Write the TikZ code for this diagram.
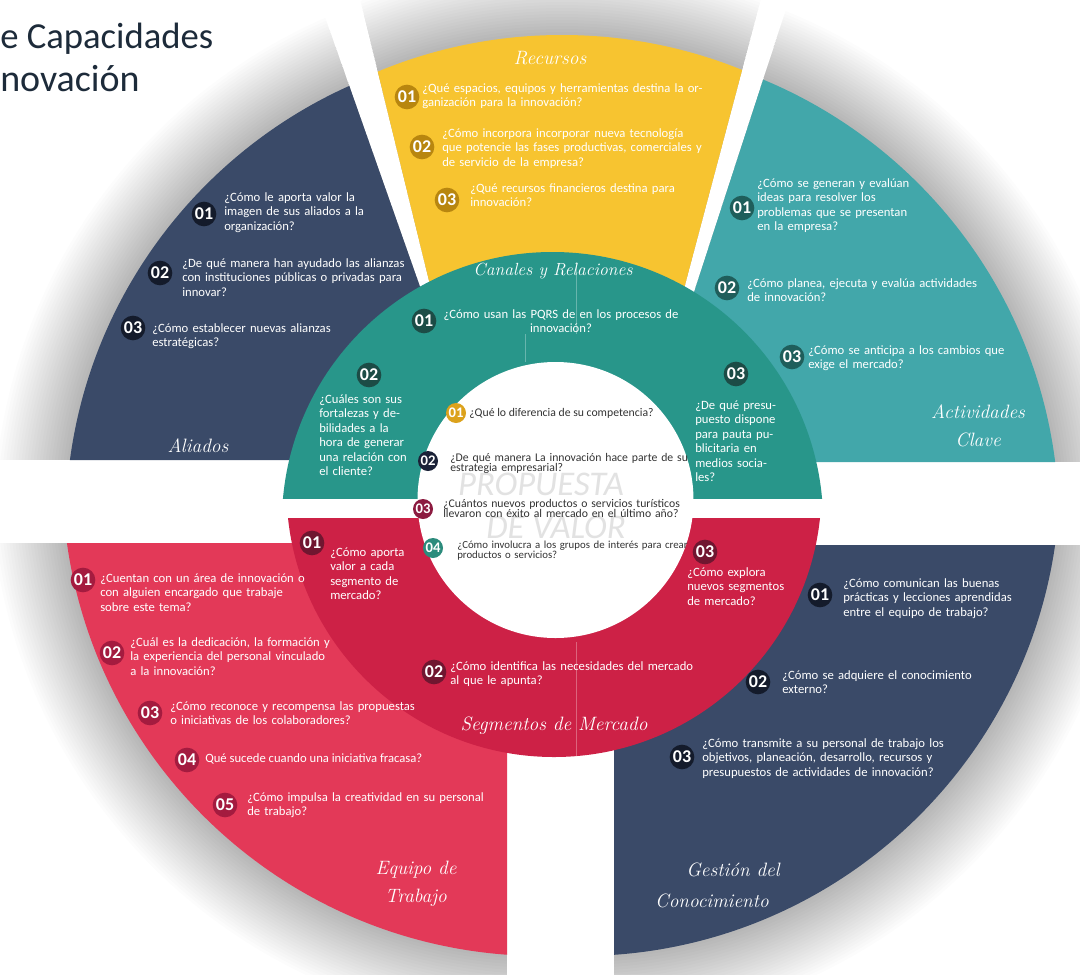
\documentclass[tikz,border=0pt]{standalone}
\usepackage{fontspec}
\newfontfamily\bodyfont{Carlito}
\newfontfamily\labelfont{Latin Modern Roman}
\definecolor{navyp}{HTML}{3A4A68}
\definecolor{yellowp}{HTML}{F7C430}
\definecolor{tealp}{HTML}{42A7AA}
\definecolor{tealm}{HTML}{28968A}
\definecolor{redp}{HTML}{E33958}
\definecolor{redm}{HTML}{CD2146}
\definecolor{titlec}{HTML}{1D2B3A}
\definecolor{bnavy}{HTML}{141B2B}
\definecolor{bgold}{HTML}{B8860F}
\definecolor{bteal}{HTML}{1F5E5B}
\definecolor{bcanal}{HTML}{1C4C46}
\definecolor{bseg}{HTML}{701630}
\definecolor{bequipo}{HTML}{A41B3F}
\definecolor{igold}{HTML}{DCA21C}
\definecolor{inavy}{HTML}{1B2238}
\definecolor{imaroon}{HTML}{8C1B40}
\definecolor{iteal}{HTML}{2C8B7C}
\definecolor{innertext}{HTML}{333333}
\definecolor{watermark}{HTML}{E2E2E2}
% one justified line of a question block
\newcommand\jr[1]{\leavevmode\hbox to\linewidth{#1}}
\begin{document}
\begin{tikzpicture}[x=0.75pt,y=-0.75pt,
  q/.style={text=white, inner sep=0pt, anchor=base west, align=left,
    font=\bodyfont\fontsize{9.5}{10.9}\selectfont},
  tw/.style={text width=#1*0.75pt},
  iq/.style={text=innertext, inner sep=0pt, anchor=base west, align=left,
    font=\bodyfont\fontsize{8.8}{7.8}\selectfont},
  badge/.style={circle, fill=#1, text=white, inner sep=0pt, minimum size=18.5pt,
    font=\bodyfont\bfseries\fontsize{13.5}{13.5}\selectfont},
  ibadge/.style={circle, fill=#1, text=white, inner sep=0pt, minimum size=15pt,
    font=\bodyfont\bfseries\fontsize{11}{11}\selectfont},
  sector/.style={text=white, inner sep=0pt, align=center,
    font=\labelfont\itshape\fontsize{14.5}{21}\selectfont},
  shadowring/.style={black, fill opacity=0.012},
]
\useasboundingbox (0,0) rectangle (1080,974);
\fill[white] (0,0) rectangle (1080,974);
\clip (0,0) rectangle (1080,974);

% ---------- outer ring: soft shadows ----------
\begin{scope}
  \clip (-20,-20) -- (312,-20) -- (481,460) -- (-20,460) -- cycle;
  \foreach \k in {1,...,24} \fill[shadowring] (545.7,524) circle (480+3*\k);
\end{scope}
\begin{scope}
  \clip (355.3,-20) -- (766,-20) -- (681,300) -- (433.7,300) -- cycle;
  \foreach \k in {1,...,24} \fill[shadowring] (562,515) circle (480+3*\k);
\end{scope}
\begin{scope}
  \clip (795.5,-20) -- (1100,-20) -- (1100,462) -- (638.85,462) -- cycle;
  \foreach \k in {1,...,24} \fill[shadowring] (579,523) circle (480+3*\k);
\end{scope}
\begin{scope}
  \clip (-20,543) rectangle (507,1000);
  \foreach \k in {1,...,24} \fill[shadowring] (542.3,476) circle (480+3*\k);
\end{scope}
\begin{scope}
  \clip (614,545) rectangle (1100,1000);
  \foreach \k in {1,...,24} \fill[shadowring] (580,476) circle (480+3*\k);
\end{scope}

% ---------- outer ring pieces ----------
\begin{scope}
  \clip (-20,-20) -- (312,-20) -- (481,460) -- (-20,460) -- cycle;
  \fill[navyp] (545.7,524) circle (480);
\end{scope}
\begin{scope}
  \clip (355.3,-20) -- (766,-20) -- (681,300) -- (433.7,300) -- cycle;
  \fill[yellowp] (562,515) circle (480);
\end{scope}
\begin{scope}
  \clip (795.5,-20) -- (1100,-20) -- (1100,462) -- (638.85,462) -- cycle;
  \fill[tealp] (579,523) circle (480);
\end{scope}
\begin{scope}
  \clip (-20,543) rectangle (507,1000);
  \fill[redp] (542.3,476) circle (480);
\end{scope}
\begin{scope}
  \clip (614,545) rectangle (1100,1000);
  \fill[navyp] (580,476) circle (480);
\end{scope}

% ---------- middle ring ----------
\begin{scope}
  \clip (0,0) rectangle (1080,498);
  \fill[tealm] (552.5,522.6) circle (270.6);
\end{scope}
\begin{scope}
  \clip (0,518) rectangle (1080,974);
  \fill[redm] (554,489.5) circle (267.5);
\end{scope}
\draw[white, opacity=0.3, line width=0.4pt] (576,262) -- (576,334);
\draw[white, opacity=0.3, line width=0.4pt] (525,334) -- (525,362);
\draw[white, opacity=0.3, line width=0.4pt] (576,642) -- (576,757);

% ---------- centre ----------
\fill[white] (555.5,500) circle (138);
\node[font=\bodyfont\itshape\fontsize{26}{30}\selectfont, text=watermark, inner sep=0pt] (wm1) at (541,484) {PROPUESTA};
\node[font=\bodyfont\itshape\fontsize{26}{30}\selectfont, text=watermark, inner sep=0pt] (wm2) at (556,527) {DE VALOR};

\node[ibadge=igold] (bi1) at (456,413) {01};
\node[iq] (ti1) at (469,416.5) {¿Qué lo diferencia de su competencia?};
\node[ibadge=inavy] (bi2) at (428,461) {02};
\node[iq, tw=300] (ti2) at (450,461) {¿De qué manera La innovación hace parte de su\\estrategia empresarial?};
\node[ibadge=imaroon] (bi3) at (423,509) {03};
\node[iq, tw=244] (ti3) at (443,507.5) {\jr{¿Cuántos nuevos productos o servicios turísticos}\\llevaron con éxito al mercado en el último año?};
\node[ibadge=iteal] (bi4) at (433,548) {04};
\node[iq, tw=300, font=\bodyfont\fontsize{8.1}{7.8}\selectfont] (ti4) at (457,548.5) {¿Cómo involucra a los grupos de interés para crear\\productos o servicios?};

% ---------- Aliados ----------
\node[badge=bnavy] (ba1) at (204,214) {01};
\node[q, tw=156] (ta1) at (224,201) {\jr{¿Cómo le aporta valor la}\\\jr{imagen de sus aliados a la}\\organización?};
\node[badge=bnavy] (ba2) at (160,273) {02};
\node[q, tw=300] (ta2) at (182,267) {¿De qué manera han ayudado las alianzas\\con instituciones públicas o privadas para\\innovar?};
\node[badge=bnavy] (ba3) at (133,328) {03};
\node[q, tw=300] (ta3) at (152,332) {¿Cómo establecer nuevas alianzas\\estratégicas?};
\node[sector] (la) at (198,446) {Aliados};

% ---------- Recursos ----------
\node[sector] (lr) at (550,58) {Recursos};
\node[badge=bgold] (br1) at (407,97) {01};
\node[q, tw=283] (tr1) at (422,92) {\jr{¿Qué espacios, equipos y herramientas destina la or-}\\ganización para la innovación?};
\node[badge=bgold] (br2) at (422,147) {02};
\node[q, tw=260] (tr2) at (442,137) {\jr{¿Cómo incorpora incorporar nueva tecnología}\\\jr{que potencie las fases productivas, comerciales y}\\de servicio de la empresa?};
\node[badge=bgold] (br3) at (447,200) {03};
\node[q, tw=213] (tr3) at (470,192) {\jr{¿Qué recursos financieros destina para}\\innovación?};

% ---------- Actividades Clave ----------
\node[badge=bteal] (bc1) at (742,208) {01};
\node[q, tw=155] (tc1) at (757,187) {\jr{¿Cómo se generan y evalúan}\\\jr{ideas para resolver los}\\\jr{problemas que se presentan}\\en la empresa?};
\node[badge=bteal] (bc2) at (727,288) {02};
\node[q, tw=300] (tc2) at (747,287) {¿Cómo planea, ejecuta y evalúa actividades\\de innovación?};
\node[badge=bteal] (bc3) at (792,357) {03};
\node[q, tw=207] (tc3) at (808,354) {\jr{¿Cómo se anticipa a los cambios que}\\exige el mercado?};
\node[sector] (lc) at (978,426) {Actividades\\Clave};

% ---------- Canales y Relaciones ----------
\node[sector, font=\labelfont\itshape\fontsize{13.2}{16}\selectfont] (lm) at (553,271) {Canales y Relaciones};
\node[badge=bcanal] (bm1) at (424,321) {01};
\node[q, align=center, anchor=base, tw=260] (tm1) at (561,318) {¿Cómo usan las PQRS de en los procesos de\\innovación?};
\node[badge=bcanal] (bm2) at (369,375) {02};
\node[q, tw=90] (tm2) at (319,403) {\jr{¿Cuáles son sus}\\\jr{fortalezas y de-}\\\jr{bilidades a la}\\\jr{hora de generar}\\\jr{una relación con}\\el cliente?};
\node[badge=bcanal] (bm3) at (736,374) {03};
\node[q, tw=90] (tm3) at (695,409) {\jr{¿De qué presu-}\\\jr{puesto dispone}\\\jr{para pauta pu-}\\\jr{blicitaria en}\\\jr{medios socia-}\\les?};

% ---------- Segmentos de Mercado ----------
\node[badge=bseg] (bs1) at (312,543) {01};
\node[q, tw=76] (ts1) at (330,556) {\jr{¿Cómo aporta}\\\jr{valor a cada}\\\jr{segmento de}\\mercado?};
\node[badge=bseg] (bs2) at (434,672) {02};
\node[q, tw=300] (ts2) at (450,670) {¿Cómo identifica las necesidades del mercado\\al que le apunta?};
\node[badge=bseg] (bs3) at (705,552) {03};
\node[q, tw=101] (ts3) at (687,576) {\jr{¿Cómo explora}\\\jr{nuevos segmentos}\\de mercado?};
\node[sector] (ls) at (554,726) {Segmentos de Mercado};

% ---------- Equipo de Trabajo ----------
\node[badge=bequipo] (be1) at (83,580) {01};
\node[q, tw=205] (te1) at (100,582) {\jr{¿Cuentan con un área de innovación o}\\\jr{con alguien encargado que trabaje}\\sobre este tema?};
\node[badge=bequipo] (be2) at (112,653) {02};
\node[q, tw=300] (te2) at (130,646) {¿Cuál es la dedicación, la formación y\\la experiencia del personal vinculado\\a la innovación?};
\node[badge=bequipo] (be3) at (150,713) {03};
\node[q, tw=300] (te3) at (170,710) {¿Cómo reconoce y recompensa las propuestas\\o iniciativas de los colaboradores?};
\node[badge=bequipo] (be4) at (187,760) {04};
\node[q] (te4) at (205,762) {Qué sucede cuando una iniciativa fracasa?};
\node[badge=bequipo] (be5) at (225,805) {05};
\node[q, tw=300] (te5) at (247,801) {¿Cómo impulsa la creatividad en su personal\\de trabajo?};
\node[sector] (le) at (416,884) {Equipo de\\Trabajo};

% ---------- Gestión del Conocimiento ----------
\node[badge=bnavy] (bg1) at (820,595) {01};
\node[q, tw=184] (tg1) at (843,587) {\jr{¿Cómo comunican las buenas}\\\jr{prácticas y lecciones aprendidas}\\entre el equipo de trabajo?};
\node[badge=bnavy] (bg2) at (758,682) {02};
\node[q, tw=198] (tg2) at (782,679) {\jr{¿Cómo se adquiere el conocimiento}\\externo?};
\node[badge=bnavy] (bg3) at (682,757) {03};
\node[q, tw=250] (tg3) at (702,747) {\jr{¿Cómo transmite a su personal de trabajo los}\\\jr{objetivos, planeación, desarrollo, recursos y}\\presupuestos de actividades de innovación?};
\node[sector] (lg1) at (733,870) {Gestión del};
\node[sector] (lg2) at (712,901) {Conocimiento};

% ---------- title ----------
\node[anchor=base west, inner sep=0pt, text=titlec,
  font=\bodyfont\fontsize{27.5}{31.5}\selectfont] (title1) at (0,49) {e Capacidades};
\node[anchor=base west, inner sep=0pt, text=titlec,
  font=\bodyfont\fontsize{28.5}{31.5}\selectfont] (title2) at (0,91) {novación};
\end{tikzpicture}
\end{document}
